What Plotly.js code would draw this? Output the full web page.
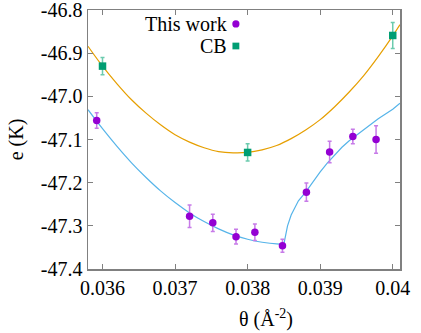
<!DOCTYPE html>
<html>
<head>
<meta charset="utf-8">
<script src="https://cdn.plot.ly/plotly-3.0.1.min.js"></script>
<style>
html,body{margin:0;padding:0;background:#fff;}
#chart{width:421px;height:333px;}
</style>
</head>
<body>
<div id="chart"></div>
<script>
// "This work" data
const workTheta = [0.03592, 0.0372, 0.03752, 0.03784, 0.0381, 0.03848, 0.03881, 0.03913, 0.03945, 0.03977];
const workE     = [-47.056, -47.278, -47.293, -47.325, -47.315, -47.346, -47.222, -47.129, -47.093, -47.100];
const workErr   = [0.018, 0.026, 0.020, 0.017, 0.019, 0.015, 0.021, 0.025, 0.017, 0.032];

// CB data
const cbTheta = [0.036, 0.038, 0.040];
const cbE     = [-46.930, -47.130, -46.859];
const cbErr   = [0.020, 0.020, 0.030];

// Fit curve for CB
const cbFitTheta = [0.0358, 0.036, 0.0362, 0.0364, 0.0366, 0.0368, 0.037, 0.0372, 0.0374, 0.0376, 0.0378, 0.038,
                    0.0382, 0.0384, 0.0386, 0.0388, 0.039, 0.0392, 0.0394, 0.0396, 0.0398, 0.04, 0.0401];
const cbFitE     = [-46.884, -46.930, -46.971, -47.008, -47.039, -47.066, -47.089, -47.106, -47.119, -47.128, -47.131, -47.130,
                    -47.124, -47.114, -47.098, -47.078, -47.054, -47.024, -46.990, -46.952, -46.908, -46.860, -46.834];

// Fit curve for this work, left branch
const workFitLeftTheta = [0.0358, 0.036, 0.0362, 0.0364, 0.0366, 0.0368, 0.037, 0.0372, 0.0374, 0.0376, 0.0378, 0.038, 0.0382, 0.0384, 0.0385];
const workFitLeftE     = [-47.031, -47.075, -47.116, -47.154, -47.188, -47.219, -47.246, -47.270, -47.290, -47.307, -47.321, -47.331, -47.338, -47.342, -47.342];

// Fit curve for this work, right branch
const workFitRightTheta = [0.0385, 0.03852, 0.03855, 0.0386, 0.03865, 0.0387, 0.0388, 0.0389, 0.039, 0.0391, 0.0392, 0.0393,
                           0.0394, 0.0395, 0.0396, 0.0397, 0.0398, 0.0399, 0.04, 0.0401];
const workFitRightE     = [-47.342, -47.322, -47.300, -47.275, -47.257, -47.242, -47.222, -47.197, -47.175, -47.154, -47.135, -47.118,
                           -47.103, -47.090, -47.077, -47.064, -47.052, -47.041, -47.030, -47.016];

const xTicks = [0.036, 0.037, 0.038, 0.039, 0.04];
const xTickText = ['0.036', '0.037', '0.038', '0.039', '0.04'];
const yTicks = [-47.4, -47.3, -47.2, -47.1, -47.0, -46.9, -46.8];
const yTickText = ['-47.4', '-47.3', '-47.2', '-47.1', '-47.0', '-46.9', '-46.8'];
const legendLabels = ['This work', 'CB'];

const serif = '"Liberation Serif", "Times New Roman", Times, serif';

const traces = [
  {x: cbFitTheta, y: cbFitE, mode: 'lines', line: {color: '#E69F00', width: 1.2, shape: 'spline'}, showlegend: false, hoverinfo: 'skip'},
  {x: workFitLeftTheta, y: workFitLeftE, mode: 'lines', line: {color: '#56B4E9', width: 1.2, shape: 'spline'}, showlegend: false, hoverinfo: 'skip'},
  {x: workFitRightTheta, y: workFitRightE, mode: 'lines', line: {color: '#56B4E9', width: 1.2, shape: 'linear'}, showlegend: false, hoverinfo: 'skip'},
  {x: workTheta, y: workE, mode: 'markers', name: legendLabels[0],
   marker: {color: '#9400D3', size: 7.5, symbol: 'circle'},
   error_y: {type: 'data', array: workErr, visible: true, color: '#C77BE8', thickness: 1.5, width: 2}},
  {x: cbTheta, y: cbE, mode: 'markers', name: legendLabels[1],
   marker: {color: '#009E73', size: 7.5, symbol: 'square'},
   error_y: {type: 'data', array: cbErr, visible: true, color: '#6CCBAE', thickness: 1.5, width: 2}}
];

function axisBase() {
  return {
    showgrid: false, zeroline: false, showline: true, linecolor: '#808080', linewidth: 1.5,
    mirror: 'allticks', ticks: 'inside', ticklen: 5, tickcolor: '#808080', tickwidth: 1,
    ticklabeloverflow: 'allow',
    tickfont: {family: serif, size: 20, color: '#000'}
  };
}

const xaxis = axisBase();
xaxis.range = [0.0358, 0.0401];
xaxis.tickmode = 'array';
xaxis.tickvals = xTicks;
xaxis.ticktext = xTickText;

const yaxis = axisBase();
yaxis.range = [-47.4, -46.8];
yaxis.tickmode = 'array';
yaxis.tickvals = yTicks;
yaxis.ticktext = yTickText;
yaxis.title = {text: 'e (K)', font: {family: serif, size: 20, color: '#000'}, standoff: 12};

const layout = {
  width: 421, height: 333,
  margin: {l: 88, r: 21, t: 10, b: 64},
  font: {family: serif, size: 20, color: '#000'},
  showlegend: false,
  xaxis: xaxis,
  yaxis: yaxis,
  annotations: [
    {xref: 'paper', yref: 'paper', x: 0.57, y: -0.19, xanchor: 'center', yanchor: 'middle', showarrow: false,
     text: 'θ (Å<sup>-2</sup>)', font: {family: serif, size: 20, color: '#000'}},
    {xref: 'paper', yref: 'paper', x: 0.452, y: 0.946, xanchor: 'right', yanchor: 'middle', showarrow: false,
     text: legendLabels[0], font: {family: serif, size: 20, color: '#000'}},
    {xref: 'paper', yref: 'paper', x: 0.452, y: 0.861, xanchor: 'right', yanchor: 'middle', showarrow: false,
     text: legendLabels[1], font: {family: serif, size: 20, color: '#000'}}
  ],
  shapes: [
    {type: 'circle', xref: 'paper', yref: 'paper', x0: 0.4625, x1: 0.4855, y0: 0.932, y1: 0.960,
     fillcolor: '#9400D3', line: {width: 0}},
    {type: 'rect', xref: 'paper', yref: 'paper', x0: 0.463, x1: 0.485, y0: 0.848, y1: 0.874,
     fillcolor: '#009E73', line: {width: 0}}
  ]
};

Plotly.newPlot('chart', traces, layout, {staticPlot: true});
</script>
</body>
</html>
